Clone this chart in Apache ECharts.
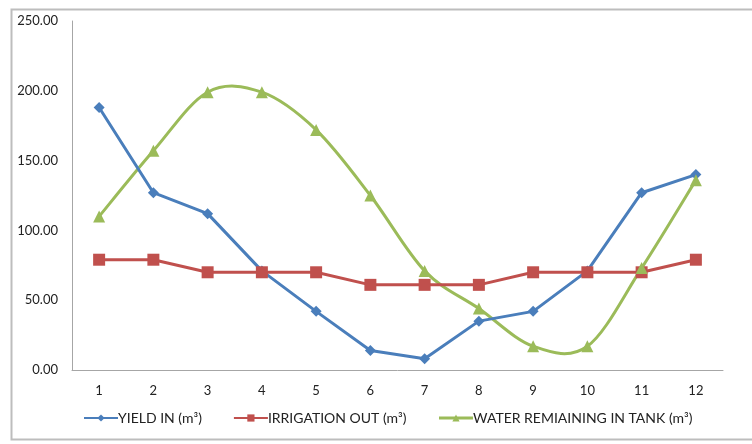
<!DOCTYPE html>
<html>
<head>
<meta charset="utf-8">
<script src="https://cdn.jsdelivr.net/npm/echarts@6/dist/echarts.min.js"></script>
<style>
  html, body { margin: 0; padding: 0; background: #fff; }
  #chart { width: 752px; height: 444px; }
</style>
</head>
<body>
<div id="chart"></div>
<script>
// months 1..12
const months = ['1', '2', '3', '4', '5', '6', '7', '8', '9', '10', '11', '12'];
const yieldIn = [188, 127, 112, 71, 42, 14, 8, 35, 42, 71, 127, 140];
const irrigationOut = [79, 79, 70, 70, 70, 61, 61, 61, 70, 70, 70, 79];
const waterRemaining = [110, 157, 199, 199, 172, 125, 71, 44, 17, 17, 73, 136];

const GREEN = '#9bbb59';
const chart = echarts.init(document.getElementById('chart'));
const font = 'Lato, "Open Sans", sans-serif';

// excel style smoothed line (catmull-rom -> bezier), echarts' own smooth clamps the overshoot
function renderSmooth(params, api) {
  if (params.dataIndex !== 0) return null;
  const pts = waterRemaining.map((v, i) => api.coord([i, v]));
  let d = 'M' + pts[0][0] + ' ' + pts[0][1];
  for (let i = 0; i < pts.length - 1; i++) {
    const p0 = pts[Math.max(i - 1, 0)];
    const p1 = pts[i];
    const p2 = pts[i + 1];
    const p3 = pts[Math.min(i + 2, pts.length - 1)];
    const c1x = p1[0] + (p2[0] - p0[0]) / 6;
    const c1y = p1[1] + (p2[1] - p0[1]) / 6;
    const c2x = p2[0] - (p3[0] - p1[0]) / 6;
    const c2y = p2[1] - (p3[1] - p1[1]) / 6;
    d += ' C' + c1x + ' ' + c1y + ' ' + c2x + ' ' + c2y + ' ' + p2[0] + ' ' + p2[1];
  }
  return {
    type: 'path',
    shape: { pathData: d },
    style: { fill: 'none', stroke: GREEN, lineWidth: 3 }
  };
}

const option = {
  animation: false,
  textStyle: { fontFamily: font },
  graphic: [{
    type: 'rect',
    shape: { x: 11.5, y: 9.5, width: 760, height: 430 },
    style: { fill: 'none', stroke: '#bdbdbd', lineWidth: 2 },
    silent: true
  }],
  grid: { left: 72, right: 29, top: 21, bottom: 74 },
  legend: {
    bottom: 14,
    left: 78,
    itemGap: 31,
    itemWidth: 34,
    itemHeight: 9,
    textStyle: { fontSize: 14, color: '#222', fontFamily: font, padding: [0, 0, 0, -5] },
    data: [
      { name: 'YIELD IN (m\u00b3)' },
      { name: 'IRRIGATION OUT (m\u00b3)' },
      { name: 'WATER REMIAINING IN TANK (m\u00b3)', lineStyle: { width: 3, opacity: 1, color: GREEN } }
    ]
  },
  xAxis: {
    type: 'category',
    data: months,
    boundaryGap: true,
    axisLine: { lineStyle: { color: '#a6a6a6', width: 1 } },
    axisTick: { show: false },
    axisLabel: { fontSize: 13, color: '#222', margin: 14 }
  },
  yAxis: {
    type: 'value',
    min: 0,
    max: 250,
    interval: 50,
    axisLine: { show: true, lineStyle: { color: '#a6a6a6', width: 1 } },
    axisTick: { show: false },
    splitLine: { show: false },
    axisLabel: {
      fontSize: 13, color: '#222', margin: 14,
      formatter: v => v.toFixed(2)
    }
  },
  series: [
    {
      name: 'YIELD IN (m\u00b3)',
      type: 'line',
      data: yieldIn,
      symbol: 'diamond',
      symbolSize: 11,
      color: '#4a7ebb',
      lineStyle: { width: 3 }
    },
    {
      name: 'IRRIGATION OUT (m\u00b3)',
      type: 'line',
      data: irrigationOut,
      symbol: 'rect',
      symbolSize: 12,
      color: '#c0504d',
      lineStyle: { width: 3 }
    },
    {
      name: 'water-curve',
      type: 'custom',
      data: waterRemaining,
      renderItem: renderSmooth,
      silent: true
    },
    {
      name: 'WATER REMIAINING IN TANK (m\u00b3)',
      type: 'line',
      data: waterRemaining,
      symbol: 'triangle',
      symbolSize: 12,
      color: GREEN,
      lineStyle: { width: 3, opacity: 0 }
    }
  ]
};

chart.setOption(option);
</script>
</body>
</html>
